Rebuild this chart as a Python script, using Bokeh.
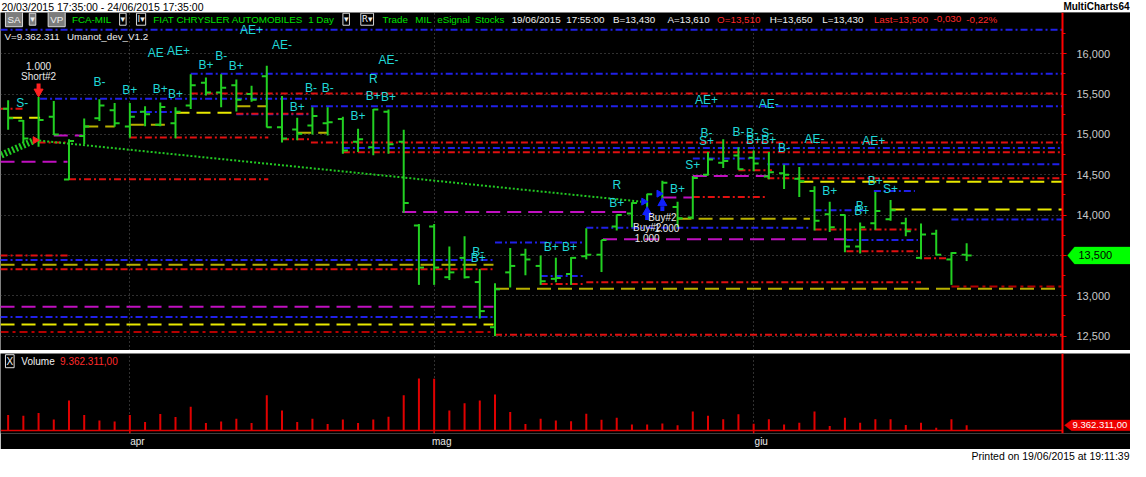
import math
from bokeh.plotting import figure
from bokeh.layouts import column
from bokeh.models import Range1d, FixedTicker, NumeralTickFormatter, Label, PolyAnnotation
from bokeh.core.properties import value
from bokeh.embed import file_html
from bokeh.resources import INLINE

# ---------------- data ----------------
opens = [15320, 15170, 14930, 15218, 14440, 14980, 15200, 15300, 15100, 15280,
         15120, 15140, 15360, 15640, 15520, 15610, 15500, 15720, 15090, 15060,
         15110, 15140, 15190, 14910, 14840, 15280, 14910, 13870, 13860, 13230,
         13470, 13170, 12610, 13290, 13510, 13370, 13210, 13270, 13490, 13510,
         13860, 14020, 14160, 14266, 14100, 13970, 14500, 14650, 14740, 14710,
         14480, 14520, 14450, 14300, 14010, 14000, 13610, 13900, 13950, 13900,
         13470, 13770, 13450, 13510]
highs = [15424, 15178, 15464, 15416, 14940, 15198, 15436, 15389, 15389, 15349,
         15397, 15337, 15746, 15706, 15746, 15682, 15603, 15853, 15476, 15206,
         15337, 15337, 15218, 15071, 15317, 15309, 15059, 13889, 13889, 13611,
         13738, 13333, 13155, 13591, 13583, 13500, 13472, 13480, 13837, 13690,
         14008, 14159, 14266, 14425, 14167, 14484, 14782, 14940, 14841, 14802,
         14782, 14623, 14595, 14357, 14167, 14008, 13909, 14286, 14186, 13968,
         13897, 13817, 13540, 13650]
lows = [15059, 14900, 14849, 14992, 14436, 14881, 15166, 15095, 14960, 15103,
        15103, 14952, 15317, 15484, 15337, 15286, 15405, 15087, 14900, 14928,
        15000, 14988, 14762, 14782, 14742, 14762, 14028, 13135, 13135, 13195,
        13214, 12718, 12500, 13103, 13254, 13135, 13167, 13135, 13452, 13294,
        13810, 13849, 14087, 14127, 13849, 13948, 14490, 14583, 14563, 14544,
        14444, 14325, 14226, 13809, 13790, 13540, 13524, 13817, 13929, 13738,
        13452, 13500, 13135, 13430]
closes = [15200, 14950, 15180, 15000, 14920, 15100, 15360, 15140, 15220, 15250,
          15340, 15280, 15610, 15520, 15580, 15430, 15430, 15090, 14950, 15010,
          15230, 15150, 14800, 14940, 15310, 14880, 14150, 13350, 13350, 13290,
          13230, 12810, 13080, 13370, 13450, 13180, 13220, 13470, 13510, 13690,
          14000, 14150, 14260, 14400, 13960, 14460, 14690, 14670, 14570, 14640,
          14530, 14500, 14420, 13930, 13850, 13610, 13850, 14050, 14060, 13800,
          13760, 13510, 13530, 13500]
volumes_m = [27.5, 25.9, 30.8, 19.3, 52.8, 27.5, 17.6, 16.0, 27.5, 14.9,
             29.2, 23.7, 41.8, 13.2, 16.0, 20.9, 13.2, 62.2, 35.2, 14.9,
             20.9, 11.6, 19.3, 13.2, 19.3, 24.2, 62.2, 91.3, 90.8, 35.2,
             47.9, 52.8, 63.3, 32.5, 11.6, 20.9, 17.6, 16.5, 29.5, 19.2,
             22.4, 10.9, 10.9, 12.5, 9.4, 33.3, 26.0, 19.8, 28.6, 12.0,
             19.8, 10.9, 14.0, 33.3, 8.3, 22.4, 14.0, 19.8, 19.8, 9.9,
             14.0, 5.2, 19.8, 9.362311]
bar_idx = list(range(len(opens)))
month_idx = [8, 28, 49]
month_labels = ["apr", "mag", "giu"]
price_ticks = [12500, 13000, 13500, 14000, 14500, 15000, 15500, 16000]
price_minor = [12750, 13250, 13750, 14250, 14750, 15250, 15750, 16250]
last_price = 13500
last_price_label = "13,500"
last_volume_label = "9.362.311,00"

# indicator levels: (from bar, to bar, price)
blue_levels = [(-0.5, 69.3, 16298), (12.0, 69.3, 15754), (2.1, 19.9, 15444), (19.9, 69.3, 15349),
               (8.0, 10.9, 15278), (15.0, 19.9, 15250), (22.0, 69.3, 14833), (-0.5, 31.9, 13444),
               (-0.5, 31.9, 12738), (32.0, 37.8, 13659), (35.0, 37.8, 13246), (38.0, 52.7, 13842),
               (45.0, 49.9, 14702), (49.9, 69.3, 14631), (56.9, 59.6, 14298), (53.0, 56.2, 14060),
               (55.1, 59.8, 13690), (62.0, 69.3, 13944)]
red_levels = [(-0.5, 1.1, 15318), (2.0, 4.0, 14901), (4.0, 17.1, 14444), (8.0, 17.1, 14961),
              (12.0, 69.3, 15508), (15.0, 19.9, 15258), (18.0, 19.9, 14940), (19.9, 69.3, 14901),
              (22.0, 69.3, 14778), (-0.5, 4.1, 13500), (-0.5, 31.9, 13330), (32.0, 69.3, 12518),
              (38.0, 60.0, 13167), (45.0, 49.9, 14226), (48.0, 50.2, 14556), (49.9, 69.3, 14456),
              (53.0, 59.8, 13821), (55.1, 59.8, 13551), (60.2, 61.8, 13464), (35.0, 37.8, 13147)]
darkred_levels = [(-0.5, 31.9, 12551), (62.0, 69.3, 13115)]
yellow_levels = [(-0.5, 31.9, 12643), (0.0, 2.1, 15206), (11.0, 15.0, 15270), (52.0, 69.3, 14413),
                 (58.0, 69.3, 14068)]
olive_levels = [(-0.5, 31.9, 13384), (5.0, 7.0, 15099), (8.0, 10.4, 15119), (15.0, 17.0, 15349),
                (19.0, 21.0, 15020), (32.0, 69.3, 13087), (44.0, 52.7, 13956)]
magenta_levels = [(-0.5, 3.9, 14663), (3.0, 4.9, 14988), (-0.5, 31.9, 12865), (25.9, 40.8, 14039),
                  (39.1, 55.1, 13702), (45.0, 50.0, 14485), (43.0, 45.0, 14218)]

signal_text = ["S-", "B-", "B+", "B+", "B+", "AE", "AE+", "B+", "B-", "B+", "AE+", "AE-",
               "B+", "B-", "B-", "R", "AE-", "B+", "B+", "B+", "B-", "B+", "B+", "B+",
               "R", "B+", "B+", "S+", "B-", "S+", "AE+", "AE-", "B-", "B-", "B+", "S-",
               "B+", "B-", "AE-", "AE+", "B+", "S+", "B+", "B-", "B+"]
signal_x = [0.93, 6.0, 8.0, 10.0, 11.0, 9.7, 11.2, 13.0, 14.0, 15.0, 16.0, 18.0,
            19.0, 19.9, 21.0, 24.0, 25.0, 24.0, 25.0, 23.0, 30.9, 30.9, 35.7, 36.9,
            40.0, 40.0, 44.0, 45.0, 45.9, 45.9, 45.9, 50.0, 48.0, 48.9, 49.0, 49.9,
            50.0, 51.0, 53.0, 56.9, 57.0, 58.0, 54.0, 56.1, 56.1]
signal_y = [15393, 15655, 15548, 15560, 15500, 16012, 16036, 15857, 15976, 15845, 16298, 16107,
            15345, 15571, 15571, 15690, 15917, 15476, 15464, 15226, 13548, 13464, 13607, 13607,
            14369, 14155, 14321, 14619, 15012, 14917, 15429, 15381, 15036, 15012, 14929, 15012,
            14929, 14833, 14940, 14917, 14429, 14321, 14298, 14119, 14048]

trend_x = [1.78, 41.6]
trend_y = [14929, 14167]
hatch_x = [-0.45, 1.7]
hatch_y = [14745, 14925]
short_bar = 2
short_price = 14929
buy_bars = [42, 43]
buy_prices = [14167, 14266]
buy_arrow_y = [14040, 14150]

# ---------------- layout ----------------
W = 1130
AXW = 68
FW = W - AXW
TOP_H, PRICE_H, SEP_H, VOL_H, BOT_H = 12, 338, 3, 96, 12
VOL_AX_H = 14
X0, X1 = -0.502, 69.30
XE = X0 + W * (X1 - X0) / FW
FONT = "Liberation Sans"
HFS = "9.8px"


def ref_x(px):
    return X0 + px * (X1 - X0) / 1070.0


def ref_p(py):
    return 16000 - (py - 56) * 500.0 / 42.0


def ref_v(py):
    return (449 - py) / 0.5915


def mx(px):
    return X0 + px * (X1 - X0) / FW


GREEN_BAR = "#22d022"
CYAN = "#20d8d8"
HG = "#00e000"
HR = "#ff2a2a"
AXRED = "#ff0000"
GRIDC = "#606060"


def lab(fig, x, y, text, color, size=HFS, align="left", bold=False, bg=None, border=None,
        font=FONT, pad=0):
    fig.add_layout(Label(x=x, y=y, text=text, text_color=color, text_font_size=size,
                         text_align=align, text_baseline="middle", text_font=font,
                         text_font_style="bold" if bold else "normal",
                         background_fill_color=bg, border_line_color=border, padding=pad))


# ---- top strip ----
t = figure(width=W, height=TOP_H, x_range=Range1d(0, W), y_range=Range1d(0, TOP_H),
           output_backend="svg", toolbar_location=None, x_axis_location=None,
           y_axis_location=None, min_border=0, background_fill_color="white",
           border_fill_color="white", outline_line_color=None)
t.grid.visible = False
lab(t, 1, 6, "20/03/2015 17:35:00 - 24/06/2015 17:35:00", "black", size="10.5px")
lab(t, W - 1, 6, "MultiCharts64", "black", size="10px", align="right", bold=True)

# ---- price pane ----
P0, P1 = ref_p(365), ref_p(13)
p = figure(width=W, height=PRICE_H, x_range=Range1d(X0, XE), y_range=Range1d(P0, P1),
           output_backend="svg", toolbar_location=None, x_axis_location=None,
           y_axis_location="right", min_border=0,
           background_fill_color="black", border_fill_color="black", outline_line_color=None)
ya = p.yaxis[0]
ya.fixed_location = X1
ya.ticker = FixedTicker(ticks=price_ticks, minor_ticks=price_minor)
ya.formatter = NumeralTickFormatter(format="0,0")
ya.major_label_text_color = "#c8c8c8"
ya.major_label_text_font = FONT
ya.major_label_text_font_size = "11px"
ya.axis_line_color = AXRED
ya.axis_line_width = 2
ya.major_tick_line_color = AXRED
ya.major_tick_out = 4
ya.major_tick_in = 0
ya.minor_tick_line_color = AXRED
ya.minor_tick_out = 3
ya.minor_tick_in = 0
ya.major_label_standoff = 10

p.ygrid.ticker = FixedTicker(ticks=price_ticks)
p.ygrid.grid_line_color = GRIDC
p.ygrid.grid_line_dash = "1 3"
p.xgrid.ticker = FixedTicker(ticks=month_idx)
p.xgrid.grid_line_color = GRIDC
p.xgrid.grid_line_dash = "1 3"

# black backing of the price-scale area (hides grid lines there)
p.quad(left=[X1], right=[XE], bottom=[P0], top=[P1], fill_color="black", line_color=None)


def draw_levels(fig, levels, color, dash, width=2.0):
    fig.segment(x0=[l[0] for l in levels], y0=[l[2] for l in levels],
                x1=[l[1] for l in levels], y1=[l[2] for l in levels],
                line_color=color, line_dash=dash, line_width=width)


draw_levels(p, darkred_levels, "#b40000", "8 4 3 4")
draw_levels(p, magenta_levels, "#c010c0", "14 7")
draw_levels(p, olive_levels, "#b8b000", "14 7")
draw_levels(p, yellow_levels, "#e8e800", "14 7")
draw_levels(p, blue_levels, "#2020e8", "7 3 2 3")
draw_levels(p, red_levels, "#e01010", "7 3 2 3")

# trend line and hatch
p.line(hatch_x, hatch_y, line_color="#22c822", line_width=7, line_dash="2 2")
p.line(trend_x, trend_y, line_color="#22c822", line_width=2, line_dash="2 2")

# OHLC bars
tick = 0.33
p.segment(x0=bar_idx, y0=lows, x1=bar_idx, y1=highs, line_color=GREEN_BAR, line_width=2)
p.segment(x0=[i - tick for i in bar_idx], y0=opens, x1=bar_idx, y1=opens,
          line_color=GREEN_BAR, line_width=2)
p.segment(x0=bar_idx, y0=closes, x1=[i + tick for i in bar_idx], y1=closes,
          line_color=GREEN_BAR, line_width=2)

# signal labels
p.text(x=signal_x, y=signal_y, text=signal_text, text_color=CYAN,
       text_font=value(FONT), text_font_size="12px", text_align="center",
       text_baseline="middle")

# short trade marker
p.scatter(x=[short_bar - 0.22], y=[short_price], marker="triangle", angle=-math.pi / 2,
          size=7, color="#ff2020")
p.segment(x0=[short_bar], y0=[ref_p(87)], x1=[short_bar], y1=[ref_p(93)],
          line_color="#ff2020", line_width=4)
p.scatter(x=[short_bar], y=[ref_p(95.5)], marker="inverted_triangle", size=9, color="#ff2020")
lab(p, short_bar, ref_p(69), "1.000", "#e8e8e8", size="10px", align="center")
lab(p, short_bar, ref_p(80), "Short#2", "#e8e8e8", size="10px", align="center")

# buy trade markers
p.scatter(x=[b - 0.22 for b in buy_bars], y=buy_prices, marker="triangle",
          angle=-math.pi / 2, size=7, color="#1020ff")
p.scatter(x=buy_bars, y=buy_arrow_y, marker="triangle", size=9, color="#1020ff")
p.segment(x0=buy_bars, y0=[y - 40 for y in buy_arrow_y], x1=buy_bars,
          y1=[y - 100 for y in buy_arrow_y], line_color="#1020ff", line_width=4)
lab(p, 43.0, ref_p(226), "Buy#2", "#e8e8e8", size="10px", align="center")
lab(p, 42.0, ref_p(236.5), "Buy#2", "#e8e8e8", size="10px", align="center")
lab(p, 43.3, ref_p(237.5), "1.000", "#e8e8e8", size="10px", align="center")
lab(p, 42.0, ref_p(247.5), "1.000", "#e8e8e8", size="10px", align="center")

# header line (inside the black pane)
hy = ref_p(20)
lab(p, ref_x(5), hy, "SA", "#f0f0f0", bg="#7c7c7c", border="#d8d8d8", pad=2)
lab(p, ref_x(29), hy, "\u25be", "#f0f0f0", bg="#7c7c7c", border="#d8d8d8", pad=1,
    font="DejaVu Sans", size="9px")
lab(p, ref_x(48), hy, "VP", "#f0f0f0", bg="#7c7c7c", border="#d8d8d8", pad=2)
for txt, px in [("FCA-MIL", 72), ("FIAT CHRYSLER AUTOMOBILES", 154), ("1 Day", 310),
                ("Trade", 385), ("MIL", 418), ("eSignal", 440), ("Stocks", 478)]:
    lab(p, ref_x(px), hy, txt, HG)
for txt, px in [("\u25be", 120), ("I\u25be", 137), ("\u25be", 345), ("R\u25be", 363)]:
    lab(p, ref_x(px), hy, txt, "#f0f0f0", border="#d8d8d8", pad=1, font="DejaVu Sans",
        size="9px")
for txt, px in [("19/06/2015", 515), ("17:55:00", 570), ("B=13,430", 617), ("A=13,610", 672),
                ("H=13,650", 775), ("L=13,430", 828)]:
    lab(p, ref_x(px), hy, txt, "#f0f0f0")
for txt, px in [("O=13,510", 722), ("Last=13,500", 880), ("-0,030", 940), ("-0,22%", 973)]:
    lab(p, ref_x(px), hy, txt, HR)
lab(p, ref_x(4), ref_p(38), "V=9.362.311", "#f0f0f0")
lab(p, ref_x(67), ref_p(38), "Umanot_dev_V1.2", "#f0f0f0")

# last price marker on the price scale
ph = 8.5 * (P1 - P0) / PRICE_H
p.add_layout(PolyAnnotation(xs=[mx(FW + 5), mx(FW + 12), XE, XE, mx(FW + 12)],
                            ys=[last_price, last_price + ph, last_price + ph, last_price - ph,
                                last_price - ph],
                            xs_units="data", ys_units="data", fill_color="#00ff00",
                            fill_alpha=1.0, line_color="#00ff00"))
lab(p, mx(FW + 16), last_price, last_price_label, "black", size="11px")

# ---- separator ----
s = figure(width=W, height=SEP_H, x_range=Range1d(0, 1), y_range=Range1d(0, 1),
           output_backend="svg", toolbar_location=None, x_axis_location=None,
           y_axis_location=None, min_border=0, background_fill_color="#eeeeee",
           border_fill_color="#eeeeee", outline_line_color=None)
s.grid.visible = False

# ---- volume pane ----
V0, V1 = ref_v(452), ref_v(369)
v = figure(width=W, height=VOL_H, x_range=p.x_range, y_range=Range1d(V0, V1),
           output_backend="svg", toolbar_location=None, x_axis_location="below",
           y_axis_location="right", min_border=0, min_border_bottom=VOL_AX_H,
           background_fill_color="black", border_fill_color="black", outline_line_color=None)
xa = v.xaxis[0]
xa.ticker = FixedTicker(ticks=[m + 0.5 for m in month_idx])
xa.major_label_overrides = {m + 0.5: lb for m, lb in zip(month_idx, month_labels)}
xa.major_tick_line_color = None
xa.minor_tick_line_color = None
xa.major_tick_out = 0
xa.major_tick_in = 0
xa.minor_tick_out = 0
xa.minor_tick_in = 0
xa.axis_line_color = None
xa.major_label_text_color = "#e8e8e8"
xa.major_label_text_font = FONT
xa.major_label_text_font_size = "10px"
xa.major_label_standoff = 2
vy = v.yaxis[0]
vy.fixed_location = X1
vy.ticker = FixedTicker(ticks=[])
vy.axis_line_color = AXRED
vy.axis_line_width = 2
vy.major_tick_line_color = None
vy.minor_tick_line_color = None
vy.major_label_text_font_size = "0px"
v.ygrid.visible = False
v.xgrid.ticker = FixedTicker(ticks=month_idx)
v.xgrid.grid_line_color = GRIDC
v.xgrid.grid_line_dash = "1 3"

v.segment(x0=bar_idx, y0=[0] * len(bar_idx), x1=bar_idx, y1=volumes_m,
          line_color="#e00000", line_width=2)
v.segment(x0=[X0], y0=[0], x1=[X1], y1=[0], line_color="#e00000", line_width=1.5)
v.segment(x0=month_idx, y0=[0] * len(month_idx), x1=month_idx,
          y1=[V0] * len(month_idx), line_color="#e00000", line_width=1.5)

vyh = ref_v(377)
lab(v, ref_x(5), vyh, "X", "#f0f0f0", border="#e0e0e0", pad=1, size="10px")
lab(v, ref_x(21), vyh, "Volume", "#f0f0f0", size="10px")
lab(v, ref_x(60), vyh, last_volume_label, HR, size="10px")
vh = 5.5 * (V1 - V0) / (VOL_H - VOL_AX_H)
lv = volumes_m[-1]
v.add_layout(PolyAnnotation(xs=[mx(FW + 2), mx(FW + 9), XE, XE, mx(FW + 9)],
                            ys=[lv, lv + vh, lv + vh, lv - vh, lv - vh],
                            xs_units="data", ys_units="data", fill_color="#ee0000",
                            fill_alpha=1.0, line_color="#ee0000"))
lab(v, mx(FW + 10), lv, last_volume_label, "white", size="9.5px")

# ---- bottom strip ----
b = figure(width=W, height=BOT_H, x_range=Range1d(0, W), y_range=Range1d(0, BOT_H),
           output_backend="svg", toolbar_location=None, x_axis_location=None,
           y_axis_location=None, min_border=0, background_fill_color="white",
           border_fill_color="white", outline_line_color=None)
b.grid.visible = False
lab(b, W - 1, 6, "Printed on 19/06/2015 at 19:11:39", "black", size="10.5px", align="right")

layout = column(t, p, s, v, b, spacing=0)
open("out.html", "w").write(file_html(layout, INLINE))
